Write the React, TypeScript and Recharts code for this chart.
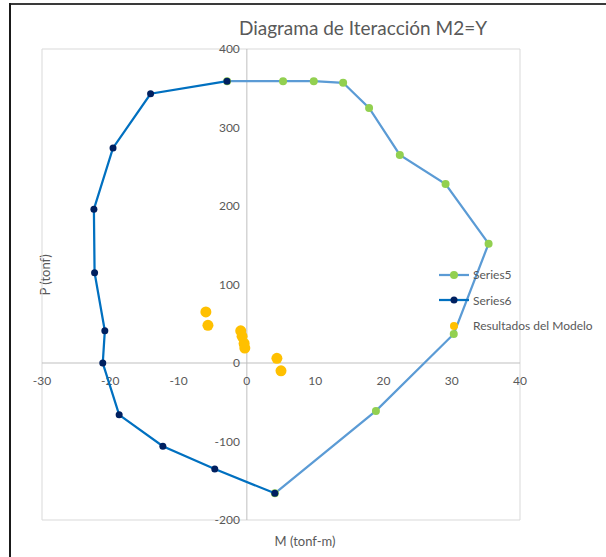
import React from "react";
import {
  ScatterChart,
  Scatter,
  XAxis,
  YAxis,
  CartesianGrid,
  ReferenceLine,
  ReferenceDot,
  Legend,
} from "recharts";

// axis ticks
const xTicks = [-30, -20, -10, 0, 10, 20, 30, 40];
const yTicks = [-200, -100, 0, 100, 200, 300, 400];

// Series5 (right half of the diagram)
const series5M = [4.1, 18.9, 30.3, 35.4, 29.1, 22.4, 17.9, 14.1, 9.8, 5.3, -2.9];
const series5P = [-166, -61, 37, 152, 228, 265, 325, 357, 359, 359, 359];

// Series6 (left half of the diagram)
const series6M = [-2.9, -14.1, -19.6, -22.4, -22.3, -20.8, -21.1, -18.7, -12.3, -4.7, 4.1];
const series6P = [359, 343, 274, 196, 115, 41, 0, -66, -106, -135, -166];

// Resultados del Modelo
const modelM = [-6.0, -5.7, -0.9, -0.7, -0.4, -0.3, 4.4, 5.0];
const modelP = [65, 48, 41, 34, 25, 19, 6, -10];

const FONT = "Lato, 'Open Sans', sans-serif";
const TEXT = "#595959";

const toPoints = (m: number[], p: number[]) => m.map((x, i) => ({ m: x, p: p[i] }));

const SERIES = [
  { name: "Series5", data: toPoints(series5M, series5P), line: "#5B9BD5", dot: "#92D050", r: 4, legendR: 4, showLine: true },
  { name: "Series6", data: toPoints(series6M, series6P), line: "#0070C0", dot: "#002060", r: 3.5, legendR: 3.5, showLine: true },
  { name: "Resultados del Modelo", data: toPoints(modelM, modelP), line: "none", dot: "#FFC000", r: 5.5, legendR: 4, showLine: false },
];

function dotShape(fill: string, r: number) {
  return (props: any) => <circle cx={props.cx} cy={props.cy} r={r} fill={fill} />;
}

function LegendBox() {
  return (
    <div style={{ fontFamily: FONT, fontSize: 12, color: TEXT }}>
      {SERIES.map((s) => (
        <div key={s.name} style={{ display: "flex", alignItems: "center", height: 25.5 }}>
          <svg width={36} height={12}>
            {s.showLine && <line x1={2} y1={6} x2={32} y2={6} stroke={s.line} strokeWidth={2.25} />}
            <circle cx={17} cy={6} r={s.legendR} fill={s.dot} />
          </svg>
          <span>{s.name}</span>
        </div>
      ))}
    </div>
  );
}

export default function App() {
  return (
    <div style={{ position: "absolute", left: 0, top: 0, width: 606, height: 557, background: "#fff" }}>
      {/* frame */}
      <div style={{ position: "absolute", left: 9, top: 3, width: 597, height: 2, background: "#3a3a3a" }} />
      <div style={{ position: "absolute", left: 9, top: 3, width: 2, height: 554, background: "#1a1a1a" }} />

      <div
        style={{
          position: "absolute",
          left: 0,
          width: 606,
          top: 16,
          textAlign: "center",
          paddingLeft: 120,
          boxSizing: "border-box",
          fontFamily: FONT,
          fontSize: 19,
          color: TEXT,
        }}
      >
        Diagrama de Iteracción M2=Y
      </div>

      <div
        style={{
          position: "absolute",
          left: 45,
          top: 275,
          transform: "translate(-50%, -50%) rotate(-90deg)",
          fontFamily: FONT,
          fontSize: 13,
          color: TEXT,
          whiteSpace: "nowrap",
        }}
      >
        P (tonf)
      </div>
      <div
        style={{
          position: "absolute",
          left: 305,
          top: 541,
          transform: "translate(-50%, -50%)",
          fontFamily: FONT,
          fontSize: 13,
          color: TEXT,
          whiteSpace: "nowrap",
        }}
      >
        M (tonf-m)
      </div>

      <div style={{ position: "absolute", left: 0, top: 0 }}>
        <ScatterChart width={606} height={557} margin={{ top: 49, right: 86, bottom: 37, left: 42 }}>
          <CartesianGrid stroke="#D9D9D9" strokeWidth={1} />
          <XAxis
            type="number"
            dataKey="m"
            domain={[-30, 40]}
            ticks={xTicks}
            height={0}
            tick={false}
            axisLine={false}
            tickLine={false}
          />
          <YAxis
            type="number"
            dataKey="p"
            domain={[-200, 400]}
            ticks={yTicks}
            width={0}
            tick={false}
            axisLine={false}
            tickLine={false}
          />
          <ReferenceLine x={0} stroke="#BFBFBF" strokeWidth={1} />
          <ReferenceLine y={0} stroke="#BFBFBF" strokeWidth={1} />

          {xTicks.map((t) => (
            <ReferenceDot
              key={"x" + t}
              x={t}
              y={0}
              r={0}
              fill="none"
              stroke="none"
              ifOverflow="visible"
              label={(p: any) => (
                <text
                  x={p.viewBox.x}
                  y={p.viewBox.y + 22}
                  textAnchor="middle"
                  fontFamily={FONT}
                  fontSize={12}
                  fill={TEXT}
                >
                  {t}
                </text>
              )}
            />
          ))}
          {yTicks.map((t) => (
            <ReferenceDot
              key={"y" + t}
              x={0}
              y={t}
              r={0}
              fill="none"
              stroke="none"
              ifOverflow="visible"
              label={(p: any) => (
                <text
                  x={p.viewBox.x - 7}
                  y={p.viewBox.y + 4}
                  textAnchor="end"
                  fontFamily={FONT}
                  fontSize={12}
                  fill={TEXT}
                >
                  {t}
                </text>
              )}
            />
          ))}

          {SERIES.map((s) => (
            <Scatter
              key={s.name}
              name={s.name}
              data={s.data}
              line={s.showLine ? { stroke: s.line, strokeWidth: 2.25 } : false}
              lineType="joint"
              fill={s.dot}
              shape={dotShape(s.dot, s.r)}
              isAnimationActive={false}
            />
          ))}

          <Legend
            layout="horizontal"
            align="center"
            verticalAlign="middle"
            wrapperStyle={{ position: "absolute", left: 437, top: 262, width: 170 }}
            content={() => <LegendBox />}
          />
        </ScatterChart>
      </div>
    </div>
  );
}
